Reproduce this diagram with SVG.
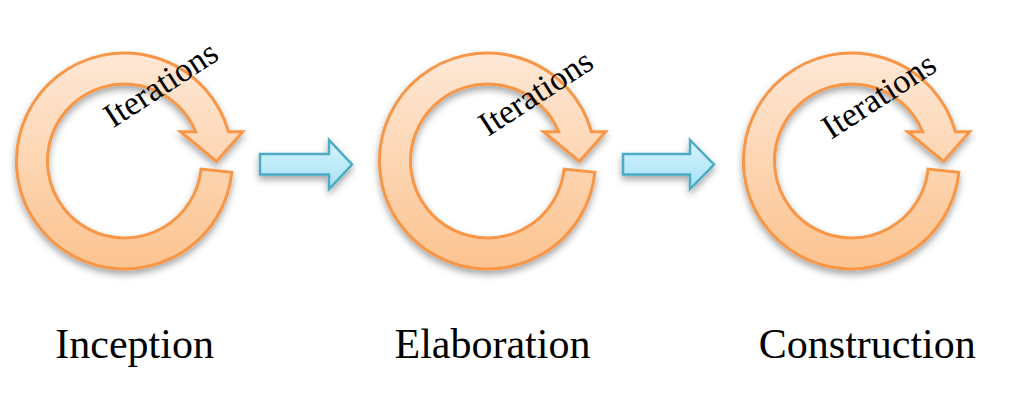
<svg xmlns="http://www.w3.org/2000/svg" width="1017" height="406" viewBox="0 0 1017 406">
  <defs>
    <linearGradient id="ringFill" x1="0" y1="0" x2="0" y2="1">
      <stop offset="0" stop-color="#fee8d6"/>
      <stop offset="1" stop-color="#fcc38f"/>
    </linearGradient>
    <linearGradient id="arrowFill" x1="0" y1="0" x2="0" y2="1">
      <stop offset="0" stop-color="#d6f3fd"/>
      <stop offset="1" stop-color="#a6e2f5"/>
    </linearGradient>
    <filter id="shadow" x="-20%" y="-20%" width="140%" height="150%">
      <feDropShadow dx="0" dy="4" stdDeviation="3.5" flood-color="#000" flood-opacity="0.35"/>
    </filter>
    <path id="ring" d="M107.4,11.3 A108,108 0 1 1 103.95,-29.3 L118.2,-29.3 L92,0.5 L56,-29.3 L71.2,-29.3 A77,77 0 1 0 76.6,8.05 Z"/>
  </defs>
  <style>
    .ring { fill: url(#ringFill); stroke: #f79646; stroke-width: 3; stroke-linejoin: miter; filter: url(#shadow); }
    .conn { fill: url(#arrowFill); stroke: #4bacc6; stroke-width: 2.5; stroke-linejoin: miter; filter: url(#shadow); }
    .iter { font-family: "Liberation Serif", "Times New Roman", serif; font-size: 34px; fill: #000; }
    .label { font-family: "Liberation Serif", "Times New Roman", serif; font-size: 42px; fill: #000; }
  </style>
  <rect width="1017" height="406" fill="#fff"/>

  <g id="connectors">
    <path class="conn" d="M260,154 H329 V140 L352,164.5 L329,189 V174.5 H260 Z"/>
    <path class="conn" d="M623,154 H690 V140 L714,164.5 L690,189 V174.5 H623 Z"/>
  </g>

  <g id="inception">
    <use href="#ring" class="ring" transform="translate(124.5,161)"/>
    <text class="iter" transform="translate(113,128.5) rotate(-33)">Iterations</text>
    <text class="label" x="55.3" y="358">Inception</text>
  </g>

  <g id="elaboration">
    <use href="#ring" class="ring" transform="translate(487.5,161)"/>
    <text class="iter" transform="translate(488,137) rotate(-33)">Iterations</text>
    <text class="label" x="394.5" y="358">Elaboration</text>
  </g>

  <g id="construction">
    <use href="#ring" class="ring" transform="translate(851.5,161)"/>
    <text class="iter" transform="translate(831,140) rotate(-33)">Iterations</text>
    <text class="label" x="758.8" y="358">Construction</text>
  </g>
</svg>
